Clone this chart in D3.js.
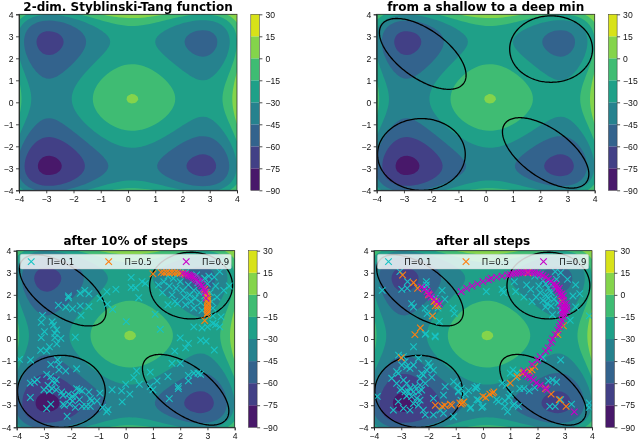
<!DOCTYPE html>
<html>
<head>
<meta charset="utf-8">
<script src="https://cdn.jsdelivr.net/npm/d3@7"></script>
<style>
  body { margin: 0; background: white; }
  svg { display: block; font-family: "DejaVu Sans", sans-serif; }
  .tick text { font-size: 8.6px; fill: #111; }
  .tick line, .domain { stroke: #222; stroke-width: 0.8; }
</style>
</head>
<body>
<div id="my_dataviz"></div>
<script>
// value of the surface along one axis, from x = -4 to 4 in steps of 0.125
// the field in a cell is profile[i] + profile[j]
var profile = [
    10, 2.297, -4.248, -9.7245, -14.2188, -17.8143, -20.5918, -22.6288, -24, -24.7772, -25.0293, -24.8221, -24.2188,
    -23.2792, -22.0605, -20.6171, -19, -17.2577, -15.4355, -13.576, -11.7188, -9.9003, -8.1543, -6.5116, -5,
    -3.6444, -2.4668, -1.4862, -0.7188, -0.1776, 0.127, 0.1876, 0,
    -0.4374, -1.123, -2.0526, -3.2188, -4.6112, -6.2168, -8.0194, -10, -12.1366, -14.4043, -16.7753, -19.2188,
    -21.701, -24.1855, -26.6327, -29, -31.2421, -33.3105, -35.1542, -36.7188, -37.9471, -38.7793, -39.1522, -39,
    -38.2538, -36.8418, -34.6893, -31.7188, -27.8495, -22.998, -17.078, -10
].reverse();

var levels = [-90, -75, -60, -45, -30, -15, 0, 15, 30];
var axisTicks = [-4, -3, -2, -1, 0, 1, 2, 3, 4];
var titles = ["2-dim. Styblinski-Tang function", "from a shallow to a deep min", "after 10% of steps", "after all steps"];
var legendLabels = ["\u03a0=0.1", "\u03a0=0.5", "\u03a0=0.9"];

// start distributions: centre, half width, half height, correlation
var ellipseCx = [-2.31, 2.4, -2.36, 2.2];
var ellipseCy = [2.2, 2.42, -2.37, -2.3];
var ellipseA = [1.59, 1.52, 1.61, 1.585];
var ellipseB = [1.61, 1.51, 1.63, 1.6];
var ellipseRho = [-0.6, 0, 0, -0.6];

// after 10% of steps
var earlyLow = [[-2.1,1.95],[-2.1,1.87],[-1.67,2.07],[-1.5,2.2],[-1.35,2.05],[-2.47,1.53],[-2.2,1.44],[-1.95,1.37],[-1.67,1.5],[-1.35,1.47],[-1.64,1.07],[-3.05,1.07],[-3.1,0.75],[-2.7,0.78],[-2.65,0.63],[-2.53,0.41],[-2.6,0.26],[-2.98,0.33],[-3.1,0.06],[-2.6,0.06],[-2.38,0.03],[-1.85,0.08],[-2.53,-0.22],[-2.8,-0.35],[-3.12,-0.51],[-2.9,-0.54],[-3.9,-0.92],[-3.49,-0.95],[-0.94,1.84],[-0.69,2.14],[-0.36,2.25],[-0.67,1.58],[-0.48,1.34],[0.02,0.79],[0.2,2.34],[0.2,2.79],[0.36,2.32],[0.6,2.6],[0.72,2.52],[0.48,1.87],[1.08,1.12],[1.27,0.44],
    [1.35,2.1],[1.6,2.4],[1.7,2],[1.8,1.7],[1.9,1.6],[1.85,2.3],[1.75,2.75],[1.55,2.85],[1.4,2.6],[2,2.6],[2.1,2.2],[2.15,1.9],[2.2,1.55],[2.3,2.45],[2.35,2],[2.4,1.7],[2.5,1.4],[2.5,2.2],[2.55,1.85],[2.65,2.55],[2.7,2.1],[2.75,1.65],[2.8,1.3],[2.85,2.3],[2.9,1.95],[3,2.5],[3.1,2.1],[3.15,1.7],[3.2,1.4],[3.25,2.8],[3.3,2.4],[3.05,2.85],[3.35,1.9],[3.45,3.05],[3.8,2.4],[3.6,2.2],[2.2,3],[1.95,2.95],[2.6,2.9],[2.9,2.75],[1.55,1.55],[1.2,2.45],[3.2,1.05],[3.5,1],[3.45,0.55],[3,0.55],[3.2,0.7],[2.5,0.55],[2.8,0.5],[3.3,0.65],
    [2,0.05],[2.3,-0.2],[2.2,-0.4],[1.8,-0.55],[2.75,-0.05],[2.95,-0.1],[3.25,-0.5],[1.7,-1.1],[2,-1.1],[1.6,-2.7],[1.93,-2.15],[1.93,-2.25],[1.55,-1.7],[2.3,-1.9],[2.3,-1.65],[2.5,-1.55],[2.65,-1.55],[2.75,-1.6],[1.15,-1.9],[0.9,-2.15],[1,-2.3],[0.9,-1.5],[0.4,-1.45],[0.3,-1.75],[0.5,-2.05],[0,-2.05],[-0.13,-2.85],[-0.15,-2.35],[-0.5,-2.3],[0.15,-2.5],[-0.65,-3.2],[-0.85,-3.1],[-0.7,-3.3],
    [-3.5,-2.65],[-3.35,-1.95],[-3.5,-2],[-3.25,-1.85],[-3,-2.3],[-2.8,-2.35],[-2.85,-2.1],[-2.7,-1.9],[-2.9,-1.6],[-2.75,-1.7],[-2.55,-1.85],[-2.6,-2],[-2.7,-2.25],[-2.55,-2.3],[-2.75,-1.15],[-2.5,-0.95],[-2.45,-1.15],[-2.45,-1.4],[-2.2,-1.45],[-1.8,-1.35],[-2.35,-2.4],[-2.3,-2.55],[-2.1,-2.5],[-2.3,-2.95],[-2.25,-3],[-2.05,-2.7],[-2.05,-2.95],[-1.95,-2.6],[-1.95,-2.8],[-1.85,-2.55],[-1.85,-3.1],[-1.8,-2.25],[-1.7,-2.3],[-1.6,-2.35],[-1.35,-2.4],[-1.3,-2.7],[-1.25,-2.8],[-1.05,-2.8],[-0.95,-2.45],[-1.45,-3.05],[-1.3,-3.05],[-1.6,-3.05],[-1.7,-2.75],[-2.15,-3.5],[-2.75,-2.95],[-2.9,-3.15]];
var earlyMid = [[1,2.95],[1.3,3.02],[1.4,3],[1.5,3.02],[1.6,3],[1.7,3.02],[1.8,3],[1.9,3],[2,2.98],[2.1,2.96],[2.2,2.93],[2.9,2.25],[2.95,2.12],[2.98,2],[3,1.9],[3.02,1.8],[3,1.7],[3.02,1.6],[3,1.5],[3,1.4],[3,1.3],[3,1.2],[2.98,1.12],[2.9,0.83]];
var earlyHigh = [[2.1,2.96],[2.2,2.94],[2.3,2.9],[2.35,2.87],[2.4,2.85],[2.45,2.82],[2.5,2.78],[2.55,2.73],[2.6,2.68],[2.65,2.62],[2.7,2.58],[2.75,2.5],[2.8,2.42],[2.85,2.3],[2.9,2.2],[2.92,2.1],[2.95,1.85]];

// after all steps
var lateLow = [[-3.05,3.05],[-2.98,2.25],[-2.78,2.3],[-2.77,2.6],[-3.7,2.2],[-2.08,2.6],[-2.08,2.45],[-2.12,2.3],[-1.5,2.2],[-1.75,1.85],[-2.62,1.6],[-2.55,1.45],[-2.12,1.4],[-2.05,1.15],[-1.87,1.05],[-1.6,0.8],[-2.1,0.25],[-1.75,0.1],[-2.55,-0.35],[-1.65,1.4],[-1.4,1.8],[-1.1,1.4],[-1.05,1.15],[0.12,2.15],[0.7,2.25],[0.75,2.1],
    [1.9,2.85],[2.1,2.9],[2.2,2.65],[2.05,2.4],[2.3,2.5],[2.4,2.3],[2.5,2.6],[2.1,2.1],[2.3,2],[2.4,1.85],[2.5,2.1],[2.6,2.35],[2.7,2.7],[2.2,1.75],[2.35,1.6],[2.5,1.5],[2.6,1.8],[2.75,1.65],[1.95,1.9],[1.8,1.7],[1.75,2.25],[1.6,2.45],[1.2,2.15],[1.5,1.9],[3.4,2.45],[3.1,2.7],[3.55,2.05],[3.3,1.95],[3.4,1.45],[3.9,1.05],[3.2,0.85],[1.15,2.6],[2.65,3.05],[2.85,3],[2.85,1.3],[2.55,1.1],[2.3,1.45],
    [2.85,-0.95],[2.2,-0.85],[1.1,-1.4],[1.25,-1.55],[1,-1.55],[1.2,-1.75],[2.4,-1.9],[2.55,-1.85],[2.7,-1.95],[1.5,-2.25],[1.35,-2.25],[0.7,-2],[0.85,-2.1],[1,-2.5],[0.95,-2.65],[2.85,-2.75],[2.45,-3.05],[2.65,-3.05],[3.25,-2.95],[3.9,-2.9],[3.9,-3.1],[1.7,-2.35],[1.9,-2.2],[1.1,-3],[1.3,-3.05],[0.9,-3.3],
    [-0.9,-2.35],[-0.8,-2.25],[-0.65,-2.5],[-0.3,-2.2],[-0.22,-2.15],[-0.45,-3.1],[0,-3.05],[0.5,-2.75],[0.8,-3.05],[0.8,-2.8],[1.15,-2.95],[-0.22,-2.75],
    [-1.76,0.14],[-2.12,0.21],[-3.1,-0.73],[-2.92,-0.8],[-3.88,-2.6],[-2.86,-1.03],[-2.98,-1.18],[-2.8,-1.25],[-2.68,-1.33],[-3.17,-1.48],[-3.11,-1.56],[-2.55,-1.18],[-2.37,-0.88],[-2,-1.1],[-1.94,-1.25],[-2.06,-1.41],[-1.82,-1.41],[-2.25,-1.56],[-2.31,-1.78],[-2.19,-1.63],[-3.35,-1.78],[-3.17,-2.01],[-2.92,-1.86],[-2.8,-2.01],[-2.98,-2.24],[-2.68,-2.24],[-2.49,-2.16],[-2.31,-2.09],[-2.12,-2.01],[-1.88,-1.74],[-3.04,-2.31],[-2.86,-2.39],[-2.74,-2.39],[-2.55,-2.39],[-2.37,-2.39],[-2.25,-2.31],[-2.62,-2.61],[-2.43,-2.69],[-2.31,-2.77],[-2.8,-2.58],[-2.55,-2.92],[-2.37,-2.99],[-3.11,-2.84],[-2.92,-3.14],[-2.68,-3.22],[-3.29,-3.22],[-2.19,-3.22],[-1.82,-3.44],[-2.12,-3.44],[-1.57,-3.22],[-1.45,-3.37],[-1.82,-2.69],[-1.45,-2.54],[-1.39,-2.16],[-1.08,-1.93],[-0.94,-2.09],[-0.9,-2.39],[-0.81,-2.77],[-1.08,-3.52],[-0.47,-3.14],[-0.53,-2.34],[-0.25,-2.24],[-0.04,-3.1],[-0.16,-2.77],[0.57,-2.84]];
var lateMid = [[-2.95,2.9],[-2.55,2.55],[-2.4,2.3],[-2,2],[-1.8,1.7],[-1.65,1.5],[-1.75,1.5],[-1.85,1.05],[-2.3,0.5],[-2.5,0.2],[-3,-0.85],[-1.75,-3],[-1.5,-3.05],[-1.4,-3],[-1.2,-2.95],[-1.15,-3],[-0.85,-2.9],[-0.8,-2.95],[-0.75,-2.9],[-0.7,-2.85],[0,-2.6],[0.1,-2.65],[0.25,-2.5],[0.35,-2.45],[0.4,-2.4],[1,-2],[1.25,-1.7],[1.45,-1.55],[1.5,-1.5],[1.7,-1.45],[1.8,-1.4],[1.9,-1.25],[2.3,-2.25],[2.5,-2.5],[2.8,-2.75],[3.05,-3.05],[2.95,0.6],[2.75,0.2],[1.65,3],[2.9,1.7]];
var lateHigh = [[-2.25,2.35],[-2.15,2.25],[-2.05,2.15],[-2,2.05],[-1.95,2],[-1.9,1.9],[-1.8,1.8],[-1.7,1.7],[-1.6,1.6],
    [-0.8,2.15],[-0.6,2.3],[-0.4,2.4],[-0.2,2.5],[0,2.6],[0.2,2.68],[0.3,2.75],[0.5,2.8],[0.7,2.85],[0.9,2.9],[1,2.93],[1.1,2.96],[1.2,2.98],[1.3,3],[1.4,3.01],[1.5,3.02],[1.6,3.02],[1.7,3.02],[1.8,3.01],[1.9,3],[2,2.97],[2.1,2.93],[2.2,2.87],[2.3,2.8],[2.4,2.72],[2.5,2.62],[2.6,2.5],[2.65,2.4],[2.7,2.3],[2.75,2.2],[2.8,2.1],[2.85,2],[2.9,1.9],[2.95,1.75],[2.98,1.6],[3,1.45],[3,1.3],[3,1.15],[2.95,1],[2.9,0.85],[2.85,0.7],[2.8,0.55],[2.75,0.4],[2.65,0.2],[2.55,0],[2.5,-0.15],[2.4,-0.4],[2.3,-0.55],[2.1,-0.8],[2,-0.95],[1.8,-1.15],[1.5,-1.45],[1.55,-1.6],[1.65,-1.7],[1.75,-1.75],[1.85,-1.85],[1.95,-2],[2.1,-2.1],[2.3,-2.2],[2.35,-2.3],[3.35,-3.3],
    [2.85,1.6],[2.9,1.45],[2.92,1.3],[2.92,1.15],[3.06,1.6],[3.08,1.45],[3.08,1.3],[2.9,2.05],[2.95,1.95],[2.7,2.45],[2.8,2.3]];

var scatterColors = ["#17c4c4", "#ff7f0e", "#c800c8"];

// set the dimensions of the four panels
var panelLeft = [19, 376.7, 16.7, 374];
var panelTop = [14.3, 14.3, 250.7, 250.7];
var panelWidth = 218, panelHeight = [176, 176, 176.6, 176.6];
var barGap = 13.8, barWidth = 8.6;

var svg = d3.select("#my_dataviz")
    .append("svg")
    .attr("width", 640)
    .attr("height", 440)
    .style("filter", "blur(0.4px)");

var contours = d3.contours()
    .size([profile.length, profile.length])
    .thresholds(levels.slice(0, -1));

var field = [];
profile.forEach(function(py) {
    profile.forEach(function(px) {
        field.push(px + py);
    });
});
var bands = contours(field);

function bandColor(i) {
    return d3.interpolateViridis((i + 0.5) / (levels.length - 1));
}

function drawPanel(p) {
    var h = panelHeight[p];
    var g = svg.append("g")
        .attr("transform", "translate(" + panelLeft[p] + "," + panelTop[p] + ")");

    var x = d3.scaleLinear().domain([-4, 4]).range([0, panelWidth]);
    var y = d3.scaleLinear().domain([-4, 4]).range([h, 0]);

    // grid index to pixel, d3.contours puts sample i at i + 0.5
    var gridX = d3.scaleLinear().domain([0.5, profile.length - 0.5]).range([0, panelWidth]);
    var gridY = d3.scaleLinear().domain([0.5, profile.length - 0.5]).range([h, 0]);
    var path = d3.geoPath(d3.geoTransform({
        point: function(a, b) {
            this.stream.point(gridX(a), gridY(b));
        }
    }));

    g.append("clipPath")
        .attr("id", "clip" + p)
        .append("rect")
        .attr("width", panelWidth)
        .attr("height", h);

    var inner = g.append("g").attr("clip-path", "url(#clip" + p + ")");

    inner.selectAll("path.band")
        .data(bands)
        .enter()
        .append("path")
        .attr("class", "band")
        .attr("d", path)
        .attr("fill", function(d, i) { return bandColor(i); });

    // ellipses, only from the second panel on
    if (p > 0) {
        var angles = d3.range(0, 2 * Math.PI, 0.03);
        var line = d3.line().curve(d3.curveLinearClosed);
        ellipseCx.forEach(function(cx, e) {
            var rho = ellipseRho[e];
            inner.append("path")
                .attr("d", line(angles.map(function(t) {
                    return [
                        x(cx + ellipseA[e] * Math.cos(t)),
                        y(ellipseCy[e] + ellipseB[e] * (rho * Math.cos(t) + Math.sqrt(1 - rho * rho) * Math.sin(t)))
                    ];
                })))
                .attr("fill", "none")
                .attr("stroke", "black")
                .attr("stroke-width", 1.3);
        });
    }

    // Add markers
    var times = d3.symbol().type(d3.symbolTimes).size(30);
    function addMarkers(parent, pts, color) {
        parent.append("g")
            .selectAll("path")
            .data(pts)
            .enter()
            .append("path")
            .attr("d", times)
            .attr("transform", function(d) {
                return "translate(" + x(d[0]) + "," + y(d[1]) + ")";
            })
            .attr("fill", "none")
            .attr("stroke", color)
            .attr("stroke-width", 1.1);
    }

    if (p >= 2) {
        var sets = p == 2 ? [earlyLow, earlyMid, earlyHigh] : [lateLow, lateMid, lateHigh];
        sets.forEach(function(pts, s) {
            addMarkers(inner, pts, scatterColors[s]);
        });

        // legend
        var legend = g.append("g").attr("transform", "translate(3.5,3.6)");
        legend.append("rect")
            .attr("width", 211)
            .attr("height", 14.6)
            .attr("rx", 1.5)
            .attr("fill", "white")
            .attr("fill-opacity", 0.8)
            .attr("stroke", "#ccc")
            .attr("stroke-opacity", 0.8)
            .attr("stroke-width", 0.6);
        var slot = d3.scaleLinear().domain([0, 1]).range([0, 77.5]);
        legendLabels.forEach(function(label, s) {
            legend.append("path")
                .attr("d", times)
                .attr("transform", "translate(" + (11 + slot(s)) + ",7.3)")
                .attr("fill", "none")
                .attr("stroke", scatterColors[s])
                .attr("stroke-width", 1.1);
            legend.append("text")
                .attr("x", 26.7 + slot(s))
                .attr("y", 10.4)
                .attr("font-size", 8.6)
                .attr("fill", "#111")
                .text(label);
        });
    }

    // frame and axes
    g.append("rect")
        .attr("width", panelWidth)
        .attr("height", h)
        .attr("fill", "none")
        .attr("stroke", "#333")
        .attr("stroke-width", 0.8);

    g.append("g")
        .attr("transform", "translate(0," + h + ")")
        .call(d3.axisBottom(x).tickValues(axisTicks).tickFormat(d3.format("d")).tickSize(3).tickPadding(2.5));
    g.append("g")
        .call(d3.axisLeft(y).tickValues(axisTicks).tickFormat(d3.format("d")).tickSize(3).tickPadding(2.5));

    g.append("text")
        .attr("x", panelWidth / 2)
        .attr("y", p < 2 ? -3 : -5.7)
        .attr("text-anchor", "middle")
        .attr("font-size", 12)
        .attr("font-weight", "bold")
        .attr("fill", "black")
        .text(titles[p]);

    // colorbar
    var cb = svg.append("g")
        .attr("transform", "translate(" + (panelLeft[p] + panelWidth + barGap) + "," + panelTop[p] + ")");
    var cbY = d3.scaleLinear().domain([-90, 30]).range([h, 0]);

    cb.selectAll("rect.level")
        .data(levels.slice(0, -1))
        .enter()
        .append("rect")
        .attr("class", "level")
        .attr("width", barWidth)
        .attr("y", function(d, i) { return cbY(levels[i + 1]); })
        .attr("height", function(d, i) { return cbY(d) - cbY(levels[i + 1]); })
        .attr("fill", function(d, i) { return bandColor(i); });

    cb.append("g")
        .attr("transform", "translate(" + barWidth + ",0)")
        .call(d3.axisRight(cbY).tickValues(levels).tickFormat(d3.format("d")).tickSize(3).tickPadding(3))
        .call(function(a) { a.select(".domain").remove(); });

    cb.append("rect")
        .attr("width", barWidth)
        .attr("height", h)
        .attr("fill", "none")
        .attr("stroke", "#333")
        .attr("stroke-width", 0.5);
}

titles.forEach(function(t, p) {
    drawPanel(p);
});
</script>
</body>
</html>
